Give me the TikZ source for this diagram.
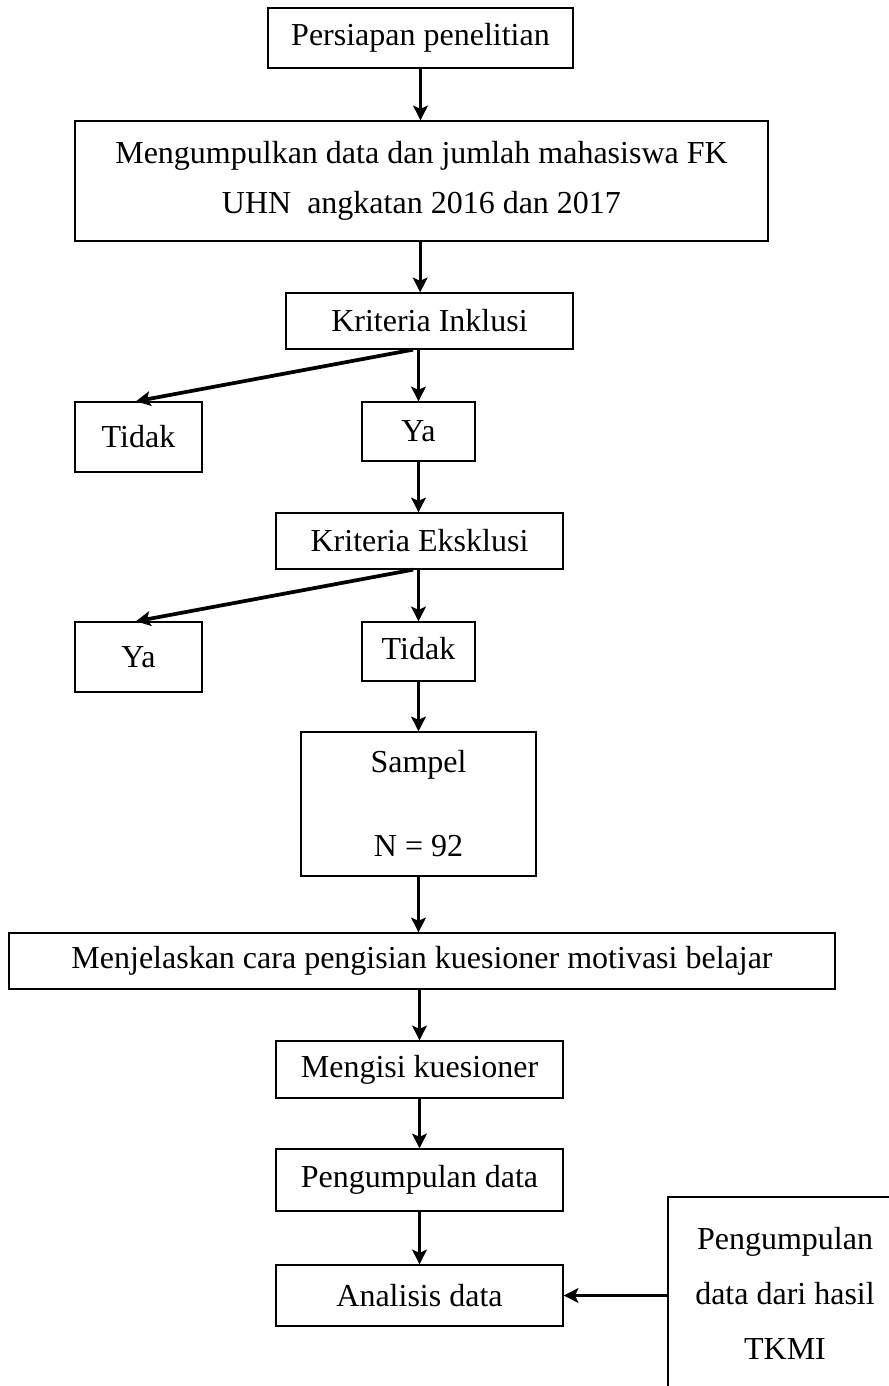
\documentclass[tikz,border=0pt]{standalone}
\usepackage{fontspec}
\setmainfont{Liberation Serif}
\usetikzlibrary{arrows.meta}

\begin{document}
\begin{tikzpicture}[x=0.375pt, y=-0.375pt,
    box/.style={draw, line width=0.5pt, inner sep=0pt, align=center,
        font=\fontsize{12}{18}\selectfont},
    wh/.style 2 args={minimum width=#1*0.375pt, minimum height=#2*0.375pt},
    arr/.style={line width=1.1pt, -{Stealth[length=5.5pt, width=5.5pt, inset=1.2pt]}}]
    \clip (0,0) rectangle (889,1386);

    \node[box, wh={305}{60}] (prep) at (420.5,38) {Persiapan penelitian};
    \node[box, wh={693}{120}] (data) at (421.5,181)
        {Mengumpulkan data dan jumlah mahasiswa FK\\[0.5pt]UHN\ \ angkatan 2016 dan 2017};
    \node[box, wh={287}{56}] (inkl) at (429.5,321) {Kriteria Inklusi};
    \node[box, wh={127}{70}] (tidakA) at (138.5,437) {Tidak};
    \node[box, wh={113}{59}] (yaA) at (418.5,431.5) {Ya};
    \node[box, wh={287}{56}] (ekskl) at (419.5,541) {Kriteria Eksklusi};
    \node[box, wh={127}{70}] (yaB) at (138.5,657) {Ya};
    \node[box, wh={113}{59}] (tidakB) at (418.5,651.5) {\raisebox{2pt}{Tidak}};
    \node[box, wh={235}{144}] (sampel) at (418.5,804)
        {Sampel\\[13.5pt]N = 92};
    \node[box, wh={826}{56}] (jelas) at (422,961)
        {Menjelaskan cara pengisian kuesioner motivasi belajar};
    \node[box, wh={287}{57}] (isi) at (419.5,1069.5) {Mengisi kuesioner};
    \node[box, wh={287}{62}] (kumpul) at (419.5,1180) {Pengumpulan data};
    \node[box, wh={287}{61}] (analisis) at (419.5,1295.5) {Analisis data};
    \node[box, wh={234}{192}, font=\fontsize{12}{20.6}\selectfont] (tkmi) at (785,1293)
        {Pengumpulan\\data dari hasil\\TKMI};

    \draw[arr] (prep.south) -- (prep.south |- data.north);
    \draw[arr] ([xshift=-0.5pt]data.south) -- ([xshift=-0.5pt]data.south |- inkl.north);
    \draw[arr] (yaA.north |- inkl.south) -- (yaA.north);
    \draw[arr, line width=1.4pt] ([xshift=-6.2pt]inkl.south) -- ([xshift=-1pt]tidakA.north);
    \draw[arr] (yaA.south) -- (yaA.south |- ekskl.north);
    \draw[arr] (tidakB.north |- ekskl.south) -- (tidakB.north);
    \draw[arr, line width=1.4pt] ([xshift=-2.4pt]ekskl.south) -- ([xshift=-1pt]yaB.north);
    \draw[arr] (tidakB.south) -- (tidakB.south |- sampel.north);
    \draw[arr] (sampel.south) -- (sampel.south |- jelas.north);
    \draw[arr] (isi.north |- jelas.south) -- (isi.north);
    \draw[arr] (isi.south) -- (kumpul.north);
    \draw[arr] (kumpul.south) -- (analisis.north);
    \draw[arr, line width=1.4pt] (tkmi.west |- analisis.east) -- (analisis.east);
\end{tikzpicture}
\end{document}
